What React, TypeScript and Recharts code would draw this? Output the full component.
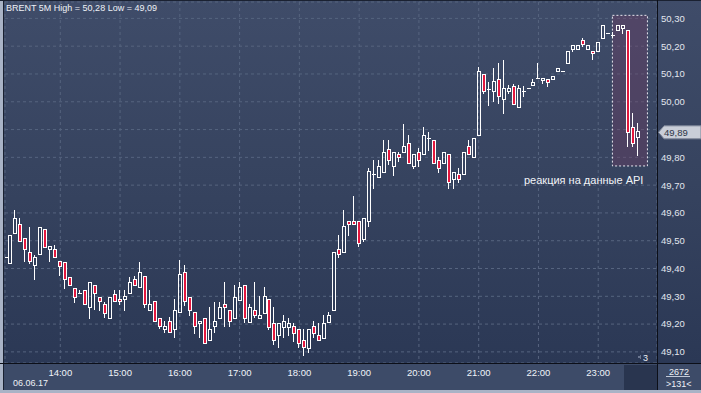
import React from 'react';
import { ComposedChart, Bar, XAxis, YAxis, CartesianGrid, ReferenceArea, ReferenceLine } from 'recharts';

// 5-minute candles, index 0 = 13:05
const opens = [
  49.44, 49.421, 49.529, 49.559, 49.509, 49.461, 49.413, 49.451, 49.541, 49.469,
  49.469, 49.428, 49.423, 49.371, 49.331, 49.311, 49.323, 49.261, 49.339, 49.299,
  49.272, 49.221, 49.309, 49.291, 49.290, 49.311, 49.361, 49.333, 49.373, 49.249,
  49.283, 49.221, 49.182, 49.212, 49.183, 49.243, 49.389, 49.299, 49.243, 49.203,
  49.221, 49.141, 49.194, 49.221, 49.273, 49.249, 49.221, 49.287, 49.341, 49.209,
  49.251, 49.221, 49.241, 49.289, 49.203, 49.159, 49.191, 49.191, 49.194, 49.181,
  49.143, 49.113, 49.194, 49.161, 49.151, 49.209, 49.249, 49.471, 49.461, 49.571,
  49.571, 49.571, 49.506, 49.571, 49.739, 49.728, 49.749, 49.829, 49.770, 49.811,
  49.818, 49.851, 49.770, 49.818, 49.811, 49.869, 49.863, 49.791, 49.779, 49.811,
  49.721, 49.739, 49.739, 49.841, 49.800, 49.881, 50.100, 50.045, 50.038, 50.081,
  50.009, 50.038, 50.057, 49.980, 50.039, 50.051, 50.060, 50.087, 50.081, 50.081,
  50.081, 50.110, 50.111, 50.141, 50.191, 50.191, 50.221, 50.191, 50.183, 50.181,
  50.230, 50.249, 50.240, 50.257, 50.267, 50.260, 49.910, 49.873,
];
const highs = [
  49.44, 49.521, 49.611, 49.581, 49.509, 49.551, 49.449, 49.551, 49.541, 49.481,
  49.485, 49.428, 49.423, 49.371, 49.331, 49.323, 49.323, 49.351, 49.339, 49.299,
  49.281, 49.299, 49.323, 49.323, 49.323, 49.371, 49.373, 49.423, 49.373, 49.323,
  49.283, 49.221, 49.212, 49.227, 49.290, 49.431, 49.413, 49.299, 49.243, 49.212,
  49.221, 49.261, 49.281, 49.281, 49.351, 49.249, 49.341, 49.351, 49.341, 49.272,
  49.351, 49.301, 49.335, 49.289, 49.263, 49.203, 49.233, 49.221, 49.205, 49.181,
  49.181, 49.181, 49.210, 49.205, 49.233, 49.243, 49.461, 49.521, 49.611, 49.571,
  49.661, 49.571, 49.581, 49.763, 49.791, 49.791, 49.863, 49.863, 49.818, 49.820,
  49.920, 49.881, 49.811, 49.833, 49.911, 49.893, 49.863, 49.800, 49.818, 49.811,
  49.749, 49.761, 49.818, 49.863, 49.869, 50.124, 50.100, 50.071, 50.121, 50.139,
  50.150, 50.060, 50.064, 50.060, 50.057, 50.051, 50.081, 50.141, 50.087, 50.081,
  50.091, 50.122, 50.111, 50.181, 50.203, 50.203, 50.230, 50.203, 50.183, 50.216,
  50.278, 50.249, 50.252, 50.278, 50.278, 50.260, 49.960, 49.923,
];
const lows = [
  49.44, 49.421, 49.529, 49.500, 49.427, 49.419, 49.361, 49.451, 49.479, 49.428,
  49.441, 49.377, 49.331, 49.341, 49.281, 49.311, 49.272, 49.221, 49.254, 49.249,
  49.227, 49.221, 49.283, 49.272, 49.249, 49.311, 49.341, 49.333, 49.261, 49.249,
  49.212, 49.185, 49.173, 49.171, 49.155, 49.243, 49.269, 49.231, 49.169, 49.153,
  49.131, 49.141, 49.173, 49.221, 49.194, 49.194, 49.221, 49.287, 49.209, 49.209,
  49.224, 49.221, 49.241, 49.181, 49.129, 49.119, 49.153, 49.161, 49.140, 49.119,
  49.089, 49.101, 49.153, 49.141, 49.151, 49.209, 49.249, 49.441, 49.461, 49.521,
  49.559, 49.481, 49.500, 49.553, 49.689, 49.728, 49.749, 49.776, 49.737, 49.788,
  49.818, 49.779, 49.761, 49.769, 49.811, 49.827, 49.779, 49.749, 49.779, 49.689,
  49.689, 49.710, 49.739, 49.811, 49.800, 49.881, 50.032, 49.987, 50.001, 49.995,
  49.959, 50.030, 49.991, 49.980, 50.021, 50.051, 50.060, 50.087, 50.069, 50.057,
  50.081, 50.110, 50.111, 50.141, 50.181, 50.191, 50.200, 50.191, 50.155, 50.181,
  50.230, 50.249, 50.234, 50.257, 50.249, 49.840, 49.840, 49.809,
];
const closes = [
  49.44, 49.521, 49.581, 49.500, 49.469, 49.427, 49.441, 49.551, 49.479, 49.481,
  49.441, 49.410, 49.361, 49.341, 49.299, 49.311, 49.272, 49.351, 49.311, 49.283,
  49.241, 49.299, 49.283, 49.283, 49.301, 49.351, 49.341, 49.389, 49.272, 49.273,
  49.212, 49.194, 49.194, 49.171, 49.249, 49.381, 49.283, 49.251, 49.194, 49.212,
  49.131, 49.182, 49.212, 49.261, 49.261, 49.212, 49.299, 49.333, 49.221, 49.261,
  49.231, 49.233, 49.301, 49.191, 49.141, 49.203, 49.212, 49.203, 49.169, 49.131,
  49.119, 49.181, 49.169, 49.141, 49.203, 49.233, 49.461, 49.451, 49.553, 49.559,
  49.559, 49.491, 49.581, 49.750, 49.739, 49.770, 49.818, 49.791, 49.818, 49.800,
  49.841, 49.779, 49.811, 49.791, 49.881, 49.869, 49.779, 49.761, 49.818, 49.710,
  49.749, 49.721, 49.818, 49.811, 49.869, 50.111, 50.038, 50.045, 50.073, 50.019,
  50.048, 50.048, 49.991, 50.048, 50.039, 50.051, 50.072, 50.087, 50.087, 50.070,
  50.091, 50.122, 50.111, 50.181, 50.203, 50.203, 50.209, 50.203, 50.174, 50.216,
  50.278, 50.249, 50.240, 50.278, 50.278, 49.891, 49.852, 49.894,
];

const hourTicks = [11, 23, 35, 47, 59, 71, 83, 95, 107, 119];
const hourLabels = ['14:00', '15:00', '16:00', '17:00', '18:00', '19:00', '20:00', '21:00', '22:00', '23:00'];
const priceTicks = [49.1, 49.2, 49.3, 49.4, 49.5, 49.6, 49.7, 49.8, 49.9, 50.0, 50.1, 50.2, 50.3];
const lastPrice = 49.89;
const highlight = { x1: 121.85, x2: 128.88, y1: 49.769, y2: 50.311 };

const data = opens.map((o, i) => ({
  k: i,
  o,
  h: highs[i],
  l: lows[i],
  c: closes[i],
  range: [lows[i], highs[i]],
}));

const FONT = '"Liberation Sans", Arial, sans-serif';
const RED = '#e3173e';

const Candle = (props: any) => {
  const { x, y, width, height, payload } = props;
  if (!payload || x == null || y == null) return null;
  const { o, h, l, c } = payload;
  const hgt = height || 0;
  const top = Math.min(y, y + hgt);
  const bot = Math.max(y, y + hgt);
  const yOf = (v: number) => (h === l ? top : top + ((h - v) / (h - l)) * (bot - top));
  const n = Math.floor(x + width / 2);
  const wx = n + 0.5;
  const yt = Math.round(top);
  const yb = Math.round(bot);
  if (o === c) {
    const yy = Math.round(yOf(o));
    return (
      <g shapeRendering="crispEdges">
        {yb > yt && <line x1={wx} x2={wx} y1={yt} y2={yb + 1} stroke="#fff" strokeWidth={1} />}
        <line x1={n - 1} x2={n + 3} y1={yy + 0.5} y2={yy + 0.5} stroke="#fff" strokeWidth={1} />
      </g>
    );
  }
  let bt = Math.round(Math.min(yOf(o), yOf(c)));
  let bb = Math.round(Math.max(yOf(o), yOf(c)));
  if (bb - bt < 2) bb = bt + 2;
  const up = c > o;
  return (
    <g shapeRendering="crispEdges">
      {bt > yt && <line x1={wx} x2={wx} y1={yt} y2={bt} stroke="#fff" strokeWidth={1} />}
      {yb > bb && <line x1={wx} x2={wx} y1={bb + 1} y2={yb + 1} stroke="#fff" strokeWidth={1} />}
      <rect x={n - 0.5} y={bt + 0.5} width={3} height={bb - bt} fill={up ? 'none' : RED} stroke="#fff" strokeWidth={1} />
    </g>
  );
};

const PriceTag = (props: any) => {
  const vb = props.viewBox || {};
  const yy = vb.y;
  const xr = (vb.x || 0) + (vb.width || 0);
  if (yy == null) return null;
  const tip = xr + 1.5;
  const bx = xr + 7;
  return (
    <g>
      <polygon
        points={`${tip},${yy} ${bx},${yy - 6.5} 701,${yy - 6.5} 701,${yy + 6.5} ${bx},${yy + 6.5}`}
        fill="#c9ced8"
        stroke="#7d8597"
        strokeWidth={1}
      />
      <text x={bx} y={yy + 3.3} fontSize={9.5} fontFamily={FONT} fill="#2e3646">
        {String(lastPrice.toFixed(2)).replace('.', ',')}
      </text>
    </g>
  );
};

const fmtPrice = (v: number) => (Math.abs(v - 49.9) < 1e-6 ? '' : v.toFixed(2).replace('.', ','));

export default function App() {
  return (
    <div style={{ position: 'fixed', left: 0, top: 0, width: 701, height: 393, overflow: 'hidden', background: '#3b4864' }}>
      <svg width={701} height={393} style={{ position: 'absolute', left: 0, top: 0 }}>
        <defs>
          <linearGradient id="bgGrad" x1="0" y1="0" x2="0" y2="1">
            <stop offset="0" stopColor="#3f4c69" />
            <stop offset="0.5" stopColor="#36435f" />
            <stop offset="1" stopColor="#2b3855" />
          </linearGradient>
        </defs>
        <rect x={0} y={0} width={701} height={363} fill="url(#bgGrad)" />
        <rect x={0} y={363} width={701} height={30} fill="#3d4b68" />
        <rect x={624} y={365} width={33} height={25} fill="#29354f" />
      </svg>
      <div style={{ position: 'absolute', left: 0, top: 0 }}>
        <ComposedChart width={701} height={393} data={data} margin={{ top: 2, right: 0, bottom: 0, left: 5 }}>
          <CartesianGrid stroke="#56647f" strokeDasharray="3 3" />
          <XAxis
            dataKey="k"
            type="number"
            domain={[-0.1, 130.8]}
            allowDataOverflow
            ticks={hourTicks}
            interval={0}
            tickFormatter={(v: number) => hourLabels[hourTicks.indexOf(v)] || ''}
            axisLine={false}
            tickLine={false}
            tickSize={3}
            tickMargin={3}
            height={30}
            tick={{ fill: '#f0f3f8', fontSize: 9.5, fontFamily: FONT }}
          />
          <YAxis
            orientation="right"
            type="number"
            domain={[49.06, 50.359]}
            allowDataOverflow
            ticks={priceTicks}
            interval={0}
            tickFormatter={fmtPrice}
            axisLine={false}
            tickLine={false}
            tickSize={2}
            tickMargin={2}
            width={44}
            tick={{ fill: '#e2e6ee', fontSize: 9.5, fontFamily: FONT, textAnchor: 'start' }}
          />
          <Bar dataKey="range" barSize={4} isAnimationActive={false} shape={(p: any) => <Candle {...p} />} />
          <ReferenceArea
            x1={highlight.x1}
            x2={highlight.x2}
            y1={highlight.y1}
            y2={highlight.y2}
            fill="#7a3a62"
            fillOpacity={0.32}
            stroke="#e6e6ee"
            strokeDasharray="2 2"
            strokeWidth={1}
            ifOverflow="extendDomain"
          />
          <ReferenceLine y={lastPrice} stroke="none" label={<PriceTag />} />
        </ComposedChart>
      </div>
      <svg width={701} height={393} style={{ position: 'absolute', left: 0, top: 0, pointerEvents: 'none' }} shapeRendering="crispEdges">
        <rect x={0} y={0} width={3} height={393} fill="#a9b3c6" />
        <rect x={3} y={0} width={1} height={393} fill="#1a2131" />
        <rect x={0} y={0} width={701} height={1} fill="#1a2131" />
        <rect x={0} y={363} width={701} height={1} fill="#0c0f18" />
        <rect x={657} y={0} width={1} height={393} fill="#0c0f18" />
        <rect x={0} y={390} width={701} height={3} fill="#a9b3c6" />
        <rect x={666} y={376} width={24} height={1} fill="#c3cad8" />
        <text x={6} y={10.7} fontSize={9} fontFamily={FONT} fill="#eef1f6" shapeRendering="auto">
          BRENT 5M High = 50,28 Low = 49,09
        </text>
        <text x={524} y={183.5} fontSize={11} fontFamily={FONT} fill="#f2f4f8" shapeRendering="auto">
          реакция на данные API
        </text>
        <text x={13} y={386} fontSize={9} fontFamily={FONT} fill="#eef1f6" shapeRendering="auto">
          06.06.17
        </text>
        <text x={669} y={375} fontSize={9} fontFamily={FONT} fill="#eef1f6" shapeRendering="auto">
          2672
        </text>
        <text x={666} y={387} fontSize={9} fontFamily={FONT} fill="#eef1f6" shapeRendering="auto">
          {'>131<'}
        </text>
        <polygon points="637,357 641,355 641,359" fill="#6b7791" />
        <text x={643} y={361} fontSize={9} fontFamily={FONT} fill="#eef1f6" shapeRendering="auto">
          3
        </text>
      </svg>
    </div>
  );
}
